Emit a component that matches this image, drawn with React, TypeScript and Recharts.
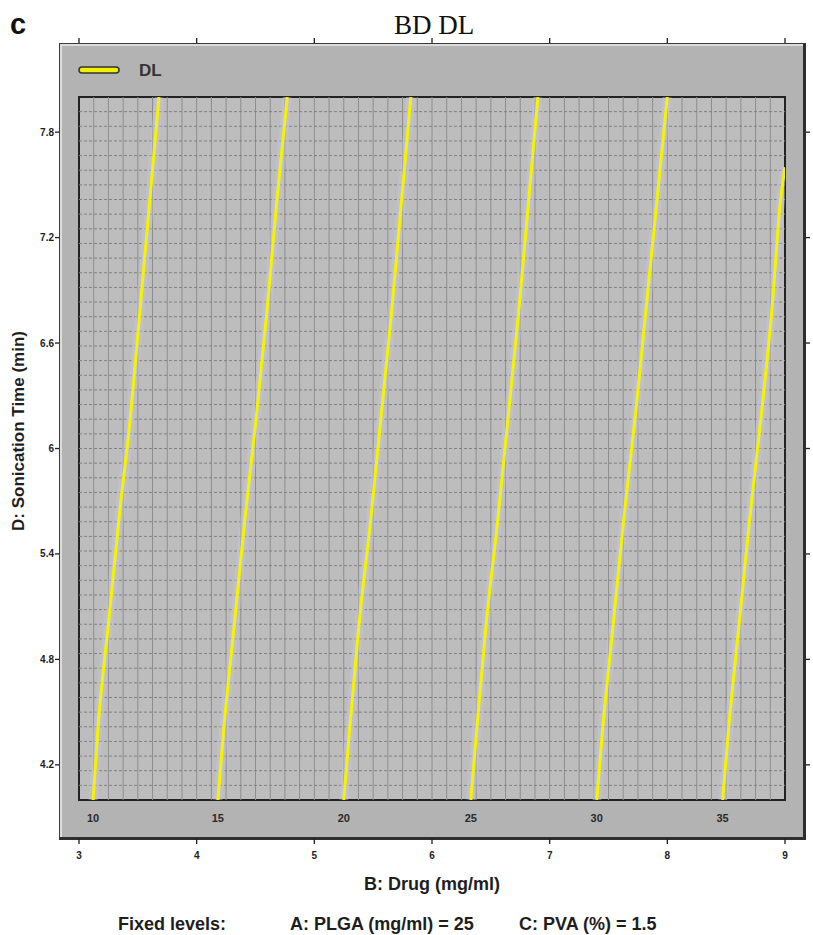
import React from "react";
import {
  LineChart,
  Line,
  XAxis,
  YAxis,
  CartesianGrid,
  ReferenceLine,
  ReferenceArea,
  LabelList,
} from "recharts";

// Contour readings: drug concentration (mg/ml) at a given sonication time (min)
const sonicationTimes = [4.0, 4.4, 5.0, 5.6, 6.2, 6.8, 7.4, 8.0];
const sonicationTimes35 = [4.0, 4.4, 5.0, 5.6, 6.2, 6.8, 7.4, 7.6];
const contourLevels = [10, 15, 20, 25, 30, 35];
const drugAt10 = [3.12, 3.16, 3.25, 3.34, 3.44, 3.52, 3.6, 3.68];
const drugAt15 = [4.18, 4.23, 4.32, 4.41, 4.51, 4.6, 4.68, 4.77];
const drugAt20 = [5.25, 5.3, 5.38, 5.48, 5.57, 5.66, 5.74, 5.82];
const drugAt25 = [6.33, 6.38, 6.46, 6.56, 6.65, 6.74, 6.82, 6.9];
const drugAt30 = [7.4, 7.45, 7.54, 7.63, 7.73, 7.82, 7.91, 8.0];
const drugAt35 = [8.47, 8.52, 8.61, 8.7, 8.8, 8.89, 8.96, 9.0];

const xTicks = [3, 4, 5, 6, 7, 8, 9];
const yTicks = [4.2, 4.8, 5.4, 6, 6.6, 7.2, 7.8];
const yTickLabels = ["4.2", "4.8", "5.4", "6", "6.6", "7.2", "7.8"];

const X_DOMAIN: [number, number] = [3, 9];
const Y_DOMAIN: [number, number] = [4, 8];

const SERIES_NAME = "DL";
const TITLE = "BD DL";

const contourDrug = [drugAt10, drugAt15, drugAt20, drugAt25, drugAt30, drugAt35];
const contourTimes = [
  sonicationTimes,
  sonicationTimes,
  sonicationTimes,
  sonicationTimes,
  sonicationTimes,
  sonicationTimes35,
];

const contours = contourLevels.map((level, k) => ({
  level,
  points: contourDrug[k].map((d, i) => ({
    drug: d,
    time: contourTimes[k][i],
    tag: i === 0 ? String(level) : undefined,
  })),
}));

// fine background grid: 48 x 48 cells
const GRID_DIVS = 48;
const gridX: number[] = [];
const gridY: number[] = [];
for (let i = 1; i < GRID_DIVS; i++) {
  gridX.push(X_DOMAIN[0] + ((X_DOMAIN[1] - X_DOMAIN[0]) * i) / GRID_DIVS);
  gridY.push(Y_DOMAIN[0] + ((Y_DOMAIN[1] - Y_DOMAIN[0]) * i) / GRID_DIVS);
}

const W = 813;
const H = 935;
const FONT = "'Liberation Sans', Arial, Helvetica, sans-serif";
const INK = "#1e1e1e";

// panel frame (outer gray box) and tick rows sit outside the plot area
const PANEL = { left: 59, top: 43, right: 806, bottom: 840 };

const BottomTick = (props: any) => {
  const { x, payload } = props;
  return (
    <g>
      <line x1={x} x2={x} y1={PANEL.bottom - 1} y2={PANEL.bottom + 4} stroke={INK} strokeWidth={1.3} />
      <text
        x={x}
        y={PANEL.bottom + 19}
        textAnchor="middle"
        fontFamily={FONT}
        fontWeight="bold"
        fontSize={10}
        fill={INK}
      >
        {payload.value}
      </text>
    </g>
  );
};

const TopTick = (props: any) => {
  const { x } = props;
  return <line x1={x} x2={x} y1={PANEL.top - 5} y2={PANEL.top} stroke={INK} strokeWidth={1.3} />;
};

const LeftTick = (props: any) => {
  const { y, payload, index } = props;
  return (
    <g>
      <line x1={PANEL.left - 4} x2={PANEL.left} y1={y} y2={y} stroke={INK} strokeWidth={1.3} />
      <text
        x={PANEL.left - 5}
        y={y + 3.5}
        textAnchor="end"
        fontFamily={FONT}
        fontWeight="bold"
        fontSize={10}
        fill={INK}
      >
        {yTickLabels[index] ?? payload.value}
      </text>
    </g>
  );
};

const RightTick = (props: any) => {
  const { y } = props;
  return <line x1={PANEL.right} x2={PANEL.right + 4} y1={y} y2={y} stroke={INK} strokeWidth={1.3} />;
};

const ContourLabel = (props: any) => {
  const { x, y, value } = props;
  if (value === undefined || value === null || value === "") return null;
  return (
    <text
      x={x}
      y={y + 22}
      textAnchor="middle"
      fontFamily={FONT}
      fontWeight="bold"
      fontSize={11}
      fill="#2a2a2a"
    >
      {value}
    </text>
  );
};

export default function App() {
  return (
    <div style={{ position: "absolute", left: 0, top: 0, width: W, height: H, background: "#fff" }}>
      {/* beveled gray panel behind the plot */}
      <div
        style={{
          position: "absolute",
          left: PANEL.left,
          top: PANEL.top,
          width: PANEL.right - PANEL.left,
          height: PANEL.bottom - PANEL.top,
          boxSizing: "border-box",
          background: "#b3b3b3",
          borderLeft: "1px solid #3a3a3a",
          borderTop: "1px solid #3a3a3a",
          borderRight: "3px solid #2e2e2e",
          borderBottom: "3px solid #2e2e2e",
          boxShadow: "inset 2px 2px 0 #dcdcdc",
        }}
      />
      <div style={{ position: "absolute", left: 0, top: 0 }}>
        <LineChart
          width={W}
          height={H}
          margin={{ top: 77, left: 59, right: 8, bottom: 95 }}
        >
          <CartesianGrid
            xAxisId="b"
            yAxisId="l"
            horizontal={false}
            vertical={false}
            fill="#bdbdbd"
            fillOpacity={1}
          />
          <XAxis
            xAxisId="b"
            dataKey="drug"
            type="number"
            domain={X_DOMAIN}
            ticks={xTicks}
            allowDataOverflow
            orientation="bottom"
            height={40}
            axisLine={false}
            tickLine={false}
            tick={<BottomTick />}
            interval={0}
          />
          <XAxis
            xAxisId="t"
            dataKey="drug"
            type="number"
            domain={X_DOMAIN}
            ticks={xTicks}
            allowDataOverflow
            orientation="top"
            height={20}
            axisLine={false}
            tickLine={false}
            tick={<TopTick />}
            interval={0}
          />
          <YAxis
            yAxisId="l"
            type="number"
            domain={Y_DOMAIN}
            ticks={yTicks}
            allowDataOverflow
            orientation="left"
            width={20}
            axisLine={false}
            tickLine={false}
            tick={<LeftTick />}
            interval={0}
          />
          <YAxis
            yAxisId="r"
            type="number"
            domain={Y_DOMAIN}
            ticks={yTicks}
            allowDataOverflow
            orientation="right"
            width={20}
            axisLine={false}
            tickLine={false}
            tick={<RightTick />}
            interval={0}
          />
          {gridX.map((v) => (
            <ReferenceLine
              key={"gx" + v}
              xAxisId="b"
              yAxisId="l"
              x={v}
              stroke="#8e8e8e"
              strokeWidth={1}
            />
          ))}
          {gridY.map((v) => (
            <ReferenceLine
              key={"gy" + v}
              xAxisId="b"
              yAxisId="l"
              y={v}
              stroke="#818181"
              strokeWidth={1}
              strokeDasharray="3 2"
            />
          ))}
          {contours.map((c) => (
            <Line
              key={"halo" + c.level}
              xAxisId="b"
              yAxisId="l"
              data={c.points}
              dataKey="time"
              type="monotone"
              stroke="#c4c4ec"
              strokeOpacity={0.45}
              strokeWidth={9}
              dot={false}
              activeDot={false}
              isAnimationActive={false}
              legendType="none"
            />
          ))}
          {contours.map((c) => (
            <Line
              key={"dl" + c.level}
              name={SERIES_NAME}
              xAxisId="b"
              yAxisId="l"
              data={c.points}
              dataKey="time"
              type="monotone"
              stroke="#f4f400"
              strokeWidth={3}
              dot={false}
              activeDot={false}
              isAnimationActive={false}
            >
              <LabelList dataKey="tag" content={<ContourLabel />} />
            </Line>
          ))}
          <ReferenceArea
            xAxisId="b"
            yAxisId="l"
            x1={X_DOMAIN[0]}
            x2={X_DOMAIN[1]}
            y1={Y_DOMAIN[0]}
            y2={Y_DOMAIN[1]}
            fill="none"
            fillOpacity={0}
            stroke="#222"
            strokeWidth={2}
          />
        </LineChart>
      </div>
      {/* titles, legend and footnote */}
      <svg
        width={W}
        height={H}
        style={{ position: "absolute", left: 0, top: 0, pointerEvents: "none" }}
      >
        <text x={10} y={34} fontFamily={FONT} fontWeight="bold" fontSize={29} fill="#111">
          c
        </text>
        <text
          x={434}
          y={34}
          textAnchor="middle"
          fontFamily="'Liberation Serif', 'Times New Roman', serif"
          fontSize={27}
          fill="#111"
        >
          {TITLE}
        </text>
        <rect x={79} y={67} width={40} height={6} rx={3} fill="#f0f000" stroke="#333" strokeWidth={1.5} />
        <text x={139} y={76} fontFamily={FONT} fontWeight="bold" fontSize={17} fill="#333">
          {SERIES_NAME}
        </text>
        <text
          transform="translate(24,431) rotate(-90)"
          textAnchor="middle"
          fontFamily={FONT}
          fontWeight="bold"
          fontSize={17}
          fill={INK}
        >
          D: Sonication Time (min)
        </text>
        <text
          x={432}
          y={890}
          textAnchor="middle"
          fontFamily={FONT}
          fontWeight="bold"
          fontSize={18}
          fill={INK}
        >
          B: Drug (mg/ml)
        </text>
        <text x={118} y={930} fontFamily={FONT} fontWeight="bold" fontSize={18} fill={INK}>
          Fixed levels:
        </text>
        <text x={290} y={930} fontFamily={FONT} fontWeight="bold" fontSize={18} fill={INK}>
          A: PLGA (mg/ml) = 25
        </text>
        <text x={519} y={930} fontFamily={FONT} fontWeight="bold" fontSize={18} fill={INK}>
          C: PVA (%) = 1.5
        </text>
      </svg>
    </div>
  );
}
